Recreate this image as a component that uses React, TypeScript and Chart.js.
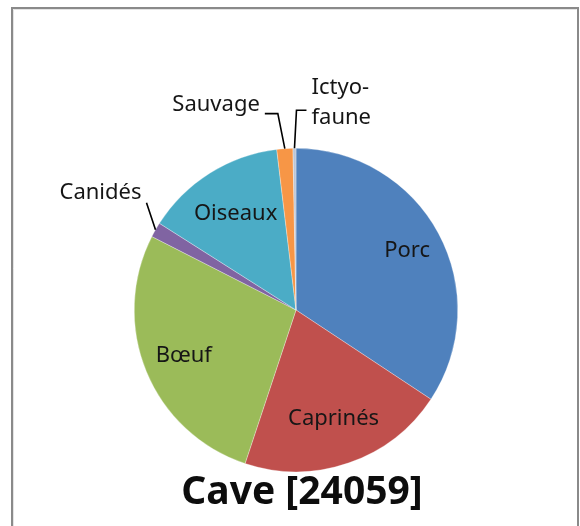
import React, { useEffect, useRef } from "react";
import { Chart, registerables } from "chart.js";

Chart.register(...registerables);

const categories = ["Porc", "Caprinés", "Bœuf", "Canidés", "Oiseaux", "Sauvage", "Ictyofaune"];
const displayLabels = [["Porc"], ["Caprinés"], ["Bœuf"], ["Canidés"], ["Oiseaux"], ["Sauvage"], ["Ictyo-", "faune"]];
const shares = [34.3, 20.8, 27.4, 1.5, 14.1, 1.6, 0.3];
const sliceColors = ["#4F81BD", "#C0504D", "#9BBB59", "#8064A2", "#4BACC6", "#F79646", "#BCC6D6"];
const chartTitle = "Cave [24059]";

// label placement (style): inside labels use radial fraction; outside use offsets from slice edge
type Placement =
  | { kind: "in"; frac: number }
  | { kind: "out"; line: [number, number][]; text: [number, number]; align: CanvasTextAlign };
const placements: Placement[] = [
  { kind: "in", frac: 0.78 },
  { kind: "in", frac: 0.71 },
  { kind: "in", frac: 0.75 },
  { kind: "out", line: [[-9, -27]], text: [-55, -37], align: "center" },
  { kind: "in", frac: 0.7 },
  { kind: "out", line: [[-7, -35], [-20, -35]], text: [-25, -44], align: "right" },
  { kind: "out", line: [[2, -38], [12, -38]], text: [17, -61], align: "left" },
];

const labelPlugin = {
  id: "labelPlugin",
  beforeDraw(chart: any) {
    const ctx = chart.ctx;
    ctx.save();
    ctx.fillStyle = "#ffffff";
    ctx.fillRect(0, 0, chart.width, chart.height);
    ctx.strokeStyle = "#8a8a8a";
    ctx.lineWidth = 2;
    ctx.beginPath();
    ctx.moveTo(12, chart.height + 5);
    ctx.lineTo(12, 8);
    ctx.lineTo(578, 8);
    ctx.lineTo(578, chart.height + 5);
    ctx.stroke();
    ctx.strokeStyle = "#e4e4e4";
    ctx.lineWidth = 1;
    ctx.beginPath();
    ctx.moveTo(13.5, chart.height + 5);
    ctx.lineTo(13.5, 9.5);
    ctx.lineTo(576.5, 9.5);
    ctx.stroke();
    ctx.restore();
  },
  afterDatasetsDraw(chart: any) {
    const ctx = chart.ctx;
    const meta = chart.getDatasetMeta(0);
    ctx.save();
    ctx.font = '22px "Noto Sans"';
    ctx.fillStyle = "#161616";
    ctx.textBaseline = "middle";
    meta.data.forEach((arc: any, i: number) => {
      const { x, y, startAngle, endAngle, outerRadius } = arc.getProps(
        ["x", "y", "startAngle", "endAngle", "outerRadius"],
        true
      );
      const mid = (startAngle + endAngle) / 2;
      const p = placements[i];
      const lines = displayLabels[i];
      if (p.kind === "in") {
        const r = outerRadius * p.frac;
        ctx.textAlign = "center";
        ctx.fillText(lines[0], x + Math.cos(mid) * r, y + Math.sin(mid) * r);
      } else {
        const ex = x + Math.cos(mid) * outerRadius;
        const ey = y + Math.sin(mid) * outerRadius;
        ctx.strokeStyle = "#000000";
        ctx.lineWidth = 1.6;
        ctx.beginPath();
        ctx.moveTo(ex, ey);
        p.line.forEach(([dx, dy]) => ctx.lineTo(ex + dx, ey + dy));
        ctx.stroke();
        ctx.textAlign = p.align;
        lines.forEach((t, k) => {
          ctx.fillText(t, ex + p.text[0], ey + p.text[1] + k * 30);
        });
      }
    });
    ctx.font = 'bold 39px "Noto Sans"';
    ctx.fillStyle = "#0d0d0d";
    ctx.textAlign = "center";
    ctx.textBaseline = "alphabetic";
    ctx.fillText(chartTitle, 302, 504);
    ctx.restore();
  },
};

export default function App() {
  const ref = useRef<HTMLCanvasElement>(null);
  useEffect(() => {
    if (!ref.current) return;
    const chart = new Chart(ref.current, {
      type: "pie",
      data: {
        labels: categories,
        datasets: [
          {
            data: shares,
            backgroundColor: sliceColors,
            borderColor: "rgba(255,255,255,0.6)",
            borderWidth: 0.5,
          },
        ],
      },
      options: {
        animation: false,
        responsive: false,
        maintainAspectRatio: false,
        layout: { padding: { left: 134, right: 122, top: 148, bottom: 54 } },
        plugins: {
          legend: { display: false },
          tooltip: { enabled: false },
          title: { display: false },
        },
      },
      plugins: [labelPlugin],
    });
    return () => chart.destroy();
  }, []);
  return (
    <div style={{ position: "fixed", left: 0, top: 0, width: 580, height: 526 }}>
      <canvas ref={ref} width={580} height={526} style={{ width: 580, height: 526 }} />
    </div>
  );
}
